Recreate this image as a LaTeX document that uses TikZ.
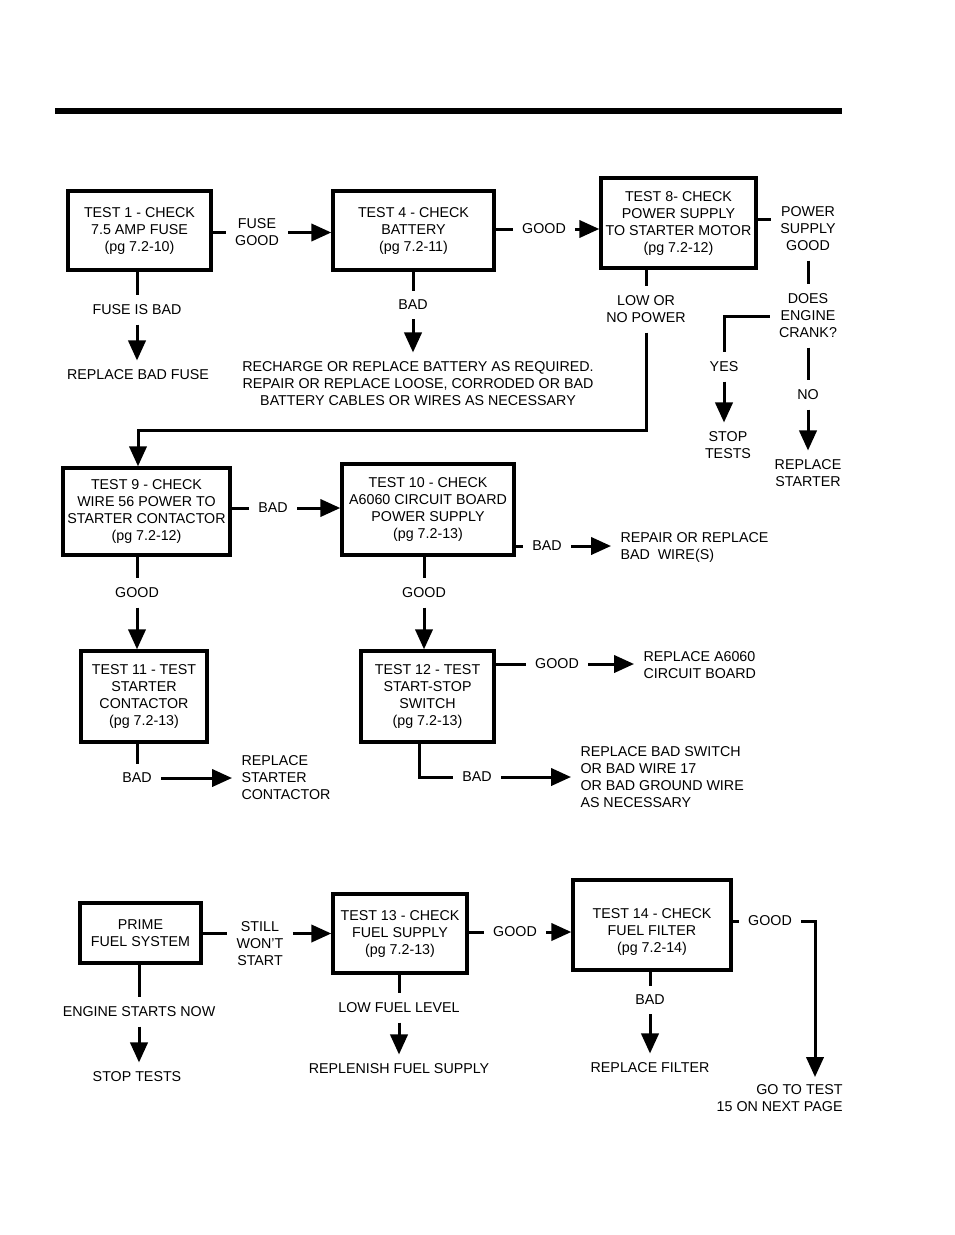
\documentclass[tikz,border=0pt]{standalone}
\usepackage{fontspec}
\setmainfont{Liberation Sans}
\usepackage{tikz}
\usetikzlibrary{arrows.meta}
\tikzstyle{box} = [draw,rectangle,line width=2.6pt,inner sep=2pt,align=center]
\tikzstyle{lbl} = [inner sep=6pt,align=center]
\tikzstyle{note} = [inner sep=6pt,align=left,anchor=west]
\tikzstyle{arr} = [-{Triangle[length=15pt,width=13pt]}]

\begin{document}
\begin{tikzpicture}[x=0.75pt,y=-0.75pt,line width=2.25pt,font=\fontsize{10.7}{12.75}\selectfont]
\useasboundingbox (0,0) rectangle (954,1235);
\fill (55,108) rectangle (842,114);

% test boxes
\node[box, minimum width=107.25pt, minimum height=59.25pt] (T1) at (139.5,230.5) {TEST 1 - CHECK\\7.5 AMP FUSE\\(pg 7.2-10)};
\node[box, minimum width=120.75pt, minimum height=59.25pt] (T4) at (413.5,230.5) {TEST 4 - CHECK\\BATTERY\\(pg 7.2-11)};
\node[box, minimum width=116.25pt, minimum height=67.5pt] (T8) at (678.5,223) {TEST 8- CHECK\\POWER SUPPLY\\TO STARTER MOTOR\\(pg 7.2-12)};
\node[box, minimum width=125.25pt, minimum height=65.25pt] (T9) at (146.5,511.5) {TEST 9 - CHECK\\WIRE 56 POWER TO\\STARTER CONTACTOR\\(pg 7.2-12)};
\node[box, minimum width=129pt, minimum height=68.25pt] (T10) at (428,509.5) {TEST 10 - CHECK\\A6060 CIRCUIT BOARD\\POWER SUPPLY\\(pg 7.2-13)};
\node[box, minimum width=94.5pt, minimum height=68.25pt] (T11) at (144,696.5) {TEST 11 - TEST\\STARTER\\CONTACTOR\\(pg 7.2-13)};
\node[box, minimum width=99.75pt, minimum height=68.25pt] (T12) at (427.5,696.5) {TEST 12 - TEST\\START-STOP\\SWITCH\\(pg 7.2-13)};
\node[box, minimum width=90.75pt, minimum height=45pt] (PRIME) at (140.5,933) {PRIME\\FUEL SYSTEM};
\node[box, minimum width=100.5pt, minimum height=59.25pt] (T13) at (400,933.5) {TEST 13 - CHECK\\FUEL SUPPLY\\(pg 7.2-13)};
\node[box, minimum width=118.5pt, minimum height=67.5pt,
  label={[align=center,yshift=-5.25pt]center:{TEST 14 - CHECK\\FUEL FILTER\\(pg 7.2-14)}}] (T14) at (652,925) {};

% labels and results
\node[lbl] (fusegood) at (257,232.5) {FUSE\\GOOD};
\node[lbl] (good4) at (544,229) {GOOD};
\node[lbl] (psgood) at (808,229) {POWER\\SUPPLY\\GOOD};
\node[lbl] (crank) at (808,316) {DOES\\ENGINE\\CRANK?};
\node[lbl] (yes) at (724,367) {YES};
\node[lbl] (stoptests) at (728,445.5) {STOP\\TESTS};
\node[lbl] (no) at (808,395) {NO};
\node[lbl] (replstarter) at (808,473.5) {REPLACE\\STARTER};
\node[lbl] (lowpower) at (646,309.5) {LOW OR\\NO POWER};
\node[lbl] (fusebad) at (137,310) {FUSE IS BAD};
\node[lbl] (replfuse) at (138,375) {REPLACE BAD FUSE};
\node[lbl] (bad4) at (413,305) {BAD};
\node[lbl] (recharge) at (418,384) {RECHARGE OR REPLACE BATTERY AS REQUIRED.\\REPAIR OR REPLACE LOOSE, CORRODED OR BAD\\BATTERY CABLES OR WIRES AS NECESSARY};
\coordinate (turn) at (138,430);

\node[lbl] (bad9) at (273,508) {BAD};
\node[lbl] (bad10) at (547,546) {BAD};
\node[note] (replwire) at (611,547.5) {REPAIR OR REPLACE\\BAD\ \ WIRE(S)};
\node[lbl] (good9) at (137,593) {GOOD};
\node[lbl] (good10) at (424,593) {GOOD};
\node[lbl] (good12) at (557,664) {GOOD};
\node[note] (replboard) at (634,665.5) {REPLACE A6060\\CIRCUIT BOARD};
\coordinate (c12) at (419,742);
\node[lbl] (bad12) at (477,777) {BAD};
\node[note] (replswitch) at (571,777.5) {REPLACE BAD SWITCH\\OR BAD WIRE 17\\OR BAD GROUND WIRE\\AS NECESSARY};
\node[lbl] (bad11) at (137,778) {BAD};
\node[note] (replcont) at (232,778) {REPLACE\\STARTER\\CONTACTOR};

\node[lbl] (still) at (260,944) {STILL\\WON'T\\START};
\node[lbl] (good13) at (515,932) {GOOD};
\node[lbl] (good14) at (770,921) {GOOD};
\coordinate (gotop) at (815,1077);
\node[lbl, align=right, anchor=north east] (goto) at (852,1075) {GO TO TEST\\15 ON NEXT PAGE};
\node[lbl] (enginestarts) at (139,1012) {ENGINE STARTS NOW};
\node[lbl] (stoptests2) at (137,1077) {STOP TESTS};
\node[lbl] (lowfuel) at (399,1008) {LOW FUEL LEVEL};
\node[lbl] (replenish) at (399,1069) {REPLENISH FUEL SUPPLY};
\node[lbl] (bad14) at (650,1000) {BAD};
\node[lbl] (replfilter) at (650,1068) {REPLACE FILTER};

% top row
\draw (T1.east |- fusegood.west) -- (fusegood.west);
\draw[arr] (fusegood.east) -- (fusegood.east -| T4.west);
\draw (T4.east |- good4.west) -- (good4.west);
\draw[arr] (good4.east) -- (good4.east -| T8.west);
\draw (T8.east |- 0,219) -- (psgood.west |- 0,219);
\draw (psgood.south) -- (crank.north);
\draw (crank.west) -| (yes.north);
\draw[arr] (yes.south) -- (yes.south |- stoptests.north);
\draw (crank.south) -- (no.north);
\draw[arr] (no.south) -- (replstarter.north);
\draw (T1.south -| fusebad.north) -- (fusebad.north);
\draw[arr] (fusebad.south) -- (fusebad.south |- replfuse.north);
\draw (T4.south -| bad4.north) -- (bad4.north);
\draw[arr] (bad4.south) -- (bad4.south |- recharge.north);
\draw (T8.south -| lowpower.north) -- (lowpower.north);
\draw[arr] (lowpower.south) -- (lowpower.south |- turn) -- (turn) -- (turn |- T9.north);

% middle rows
\draw (T9.east |- bad9.west) -- (bad9.west);
\draw[arr] (bad9.east) -- (bad9.east -| T10.west);
\draw (T10.east |- bad10.west) -- (bad10.west);
\draw[arr] (bad10.east) -- (bad10.east -| replwire.west);
\draw (T9.south -| good9.north) -- (good9.north);
\draw[arr] (good9.south) -- (good9.south |- T11.north);
\draw (T10.south -| good10.north) -- (good10.north);
\draw[arr] (good10.south) -- (good10.south |- T12.north);
\draw (T12.east |- good12.west) -- (good12.west);
\draw[arr] (good12.east) -- (good12.east -| replboard.west);
\draw (c12) |- (bad12.west);
\draw[arr] (bad12.east) -- (bad12.east -| replswitch.west);
\draw (T11.south -| bad11.north) -- (bad11.north);
\draw[arr] (bad11.east) -- (bad11.east -| replcont.west);

% fuel row
\draw (PRIME.east) -- (PRIME.east -| still.west);
\draw[arr] (still.east |- T13.west) -- (T13.west);
\draw (T13.east |- good13.west) -- (good13.west);
\draw[arr] (good13.east) -- (good13.east -| T14.west);
\draw (T14.east |- good14.west) -- (good14.west);
\draw[arr] (good14.east) -| (gotop);
\draw (PRIME.south -| enginestarts.north) -- (enginestarts.north);
\draw[arr] (enginestarts.south) -- (enginestarts.south |- stoptests2.north);
\draw (T13.south -| lowfuel.north) -- (lowfuel.north);
\draw[arr] (lowfuel.south) -- (lowfuel.south |- replenish.north);
\draw (T14.south -| bad14.north) -- (bad14.north);
\draw[arr] (bad14.south) -- (bad14.south |- replfilter.north);

\end{tikzpicture}
\end{document}
